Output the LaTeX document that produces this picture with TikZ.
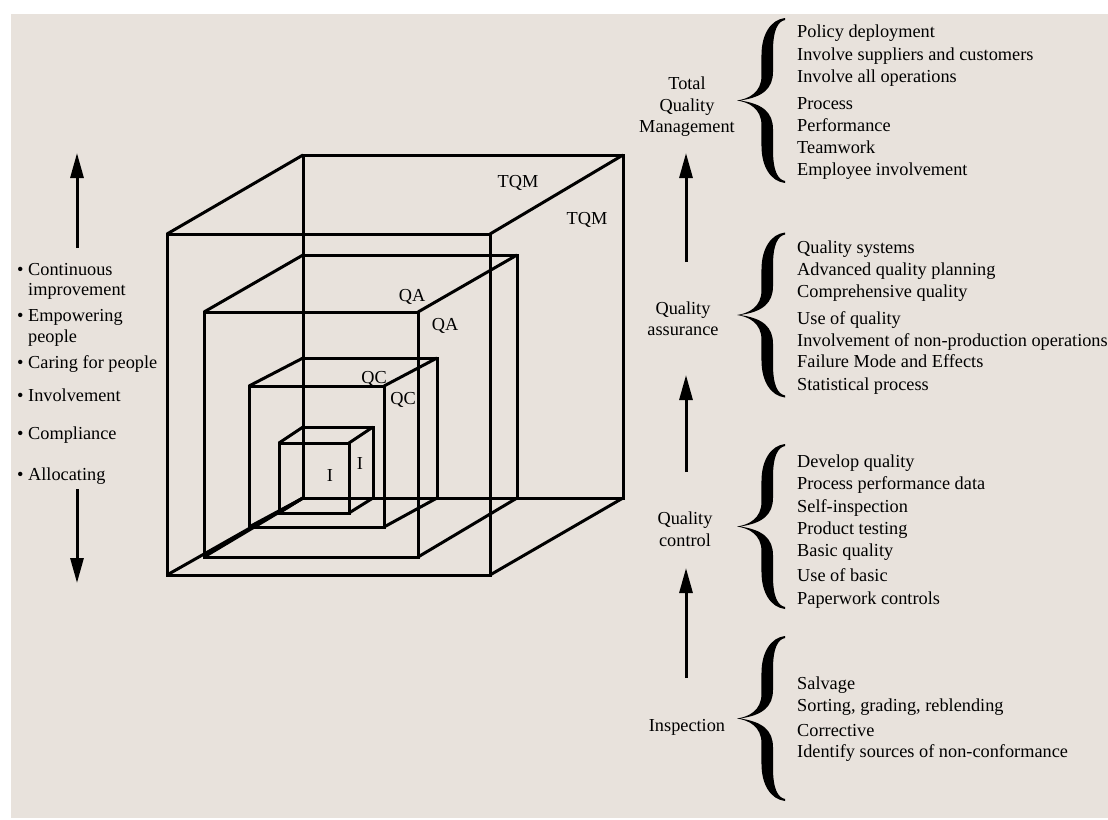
\documentclass[tikz,border=0pt]{standalone}
\usepackage{fontspec}
\setmainfont{Liberation Serif}
\usetikzlibrary{arrows.meta}
\definecolor{paper}{RGB}{232,226,220}

% wireframe cube: front rectangle (#1,#2)-(#3,#4), back rectangle (#5,#6)-(#7,#8)
\newcommand\wirecube[8]{%
  \draw[edge] (#1,#2) rectangle (#3,#4);
  \draw[edge] (#5,#6) rectangle (#7,#8);
  \draw[edge] (#1,#2) -- (#5,#6) (#3,#2) -- (#7,#6)
              (#1,#4) -- (#5,#8) (#3,#4) -- (#7,#8);
}

% filled curly brace with its tip at (#1,#2), opening to the right
\newcommand\curlybrace[2]{%
  \begin{scope}[shift={(#1,#2)}, xscale=48, yscale=82.5]
    \fill (1,1) .. controls (0.7,0.98) and (0.51,0.8) .. (0.51,0.55)
      -- (0.51,0.3) .. controls (0.51,0.1) and (0.25,0.02) .. (0,0)
      .. controls (0.25,-0.02) and (0.51,-0.1) .. (0.51,-0.3)
      -- (0.51,-0.55) .. controls (0.51,-0.8) and (0.7,-0.98) .. (1,-1)
      -- (1,-0.975) .. controls (0.85,-0.96) and (0.75,-0.85) .. (0.75,-0.6)
      -- (0.75,-0.35) .. controls (0.75,-0.15) and (0.55,-0.04) .. (0.06,0)
      .. controls (0.55,0.04) and (0.75,0.15) .. (0.75,0.35)
      -- (0.75,0.6) .. controls (0.75,0.85) and (0.85,0.96) .. (1,0.975)
      -- cycle;
  \end{scope}}

\begin{document}
\begin{tikzpicture}[x=1pt, y=-1pt,
  every node/.style={font=\fontsize{18.3}{22}\selectfont, inner sep=0pt,
                     text height=12.5pt, text depth=3.5pt},
  txt/.style={anchor=west},
  ctr/.style={anchor=center},
  caplabel/.style={anchor=center, text height=11.9pt, text depth=0pt},
  edge/.style={line width=3pt, line join=miter},
  arr/.style={line width=3pt, -{Triangle[length=25pt, width=13pt]}},
]
\useasboundingbox (0,0) rectangle (1108,819);
\fill[white] (0,0) rectangle (1108,819);
\fill[paper] (11,14) rectangle (1108,818);

% nested cubes
\wirecube{167}{234}{490}{575}{303}{155}{623}{498}
\wirecube{204}{312}{418}{557}{303}{255}{517}{498}
\wirecube{249}{386}{384}{527}{303}{358}{437}{498}
\wirecube{279}{443}{349}{513}{303}{427}{373}{498}

\node[caplabel] (tqmA) at (518,182) {TQM};
\node[caplabel] (tqmB) at (587,219) {TQM};
\node[caplabel] (qaA) at (412,296) {QA};
\node[caplabel] (qaB) at (445,325) {QA};
\node[caplabel] (qcA) at (374,378) {QC};
\node[caplabel] (qcB) at (403,399) {QC};
\node[caplabel] (iA) at (330,476) {I};
\node[caplabel] (iB) at (360,464) {I};

% left column
\coordinate (lupA) at (77,248);
\coordinate (lupB) at (77,153);
\coordinate (ldnA) at (77,489);
\coordinate (ldnB) at (77,583);
\draw[arr] (lupA) -- (lupB);
\draw[arr] (ldnA) -- (ldnB);

\node[txt] (c1) at (17,271) {\textbullet\ Continuous};
\node[txt] (c1b) at (28,291) {improvement};
\node[txt] (c2) at (17,317) {\textbullet\ Empowering};
\node[txt] (c2b) at (28,338) {people};
\node[txt] (c3) at (17,364) {\textbullet\ Caring for people};
\node[txt] (c4) at (17,397) {\textbullet\ Involvement};
\node[txt] (c5) at (17,435) {\textbullet\ Compliance};
\node[txt] (c6) at (17,476) {\textbullet\ Allocating};

% stage labels and arrows
\node[ctr] (tqm1) at (687,85) {Total};
\node[ctr] (tqm2) at (687,107) {Quality};
\node[ctr] (tqm3) at (687,128) {Management};
\node[ctr] (qa1) at (683,310) {Quality};
\node[ctr] (qa2) at (683,331) {assurance};
\node[ctr] (qc1) at (685,520) {Quality};
\node[ctr] (qc2) at (685,542) {control};
\node[ctr] (ins) at (687,727) {Inspection};

\coordinate (r1a) at (686,262);
\coordinate (r1b) at (686,153);
\coordinate (r2a) at (686,472);
\coordinate (r2b) at (686,375);
\coordinate (r3a) at (686,678);
\coordinate (r3b) at (686,568);
\draw[arr] (r1a) -- (r1b);
\draw[arr] (r2a) -- (r2b);
\draw[arr] (r3a) -- (r3b);

% braces
\curlybrace{737}{100.5}
\curlybrace{737}{315}
\curlybrace{737}{526.5}
\curlybrace{737}{718.5}

% activity lists
\foreach \y/\t [count=\i] in {
  33/Policy deployment, 56/Involve suppliers and customers,
  78/Involve all operations, 105/Process, 127/Performance,
  149/Teamwork, 171/Employee involvement,
  249/Quality systems, 271/Advanced quality planning,
  293/Comprehensive quality, 320/Use of quality,
  342/Involvement of non-production operations,
  363/Failure Mode and Effects, 386/Statistical process,
  463/Develop quality, 485/Process performance data,
  508/Self-inspection, 530/Product testing, 552/Basic quality,
  577/Use of basic, 600/Paperwork controls,
  685/Salvage, 707/{Sorting, grading, reblending}, 732/Corrective,
  753/Identify sources of non-conformance}
  \node[txt] (item\i) at (797,\y) {\t};
\end{tikzpicture}
\end{document}
